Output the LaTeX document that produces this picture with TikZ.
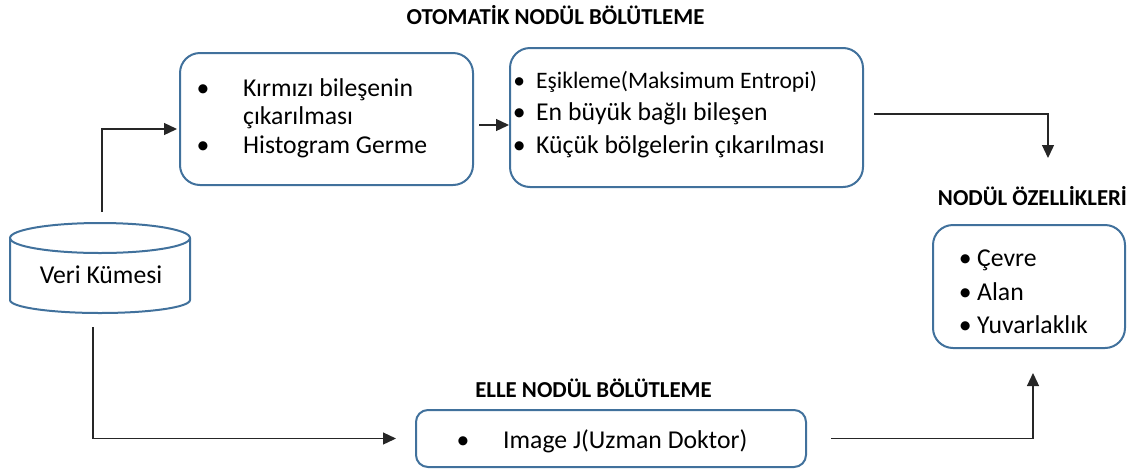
\documentclass[tikz,border=0pt]{standalone}
\usepackage{fontspec}
\setmainfont{Carlito}
\usetikzlibrary{arrows.meta}
\definecolor{boxblue}{HTML}{41719C}
\begin{document}
\begin{tikzpicture}[x=1pt,y=-1pt,
  box/.style={draw=boxblue, line width=2pt, rounded corners=20pt, inner sep=0pt},
  txt/.style={inner sep=0pt, anchor=base west, font=\fontsize{25.7}{30}\selectfont},
  small/.style={inner sep=0pt, anchor=base west, font=\fontsize{23.6}{28}\selectfont},
  bul/.style={inner sep=0pt, anchor=base, font=\fontsize{25.7}{30}\selectfont},
  ttl/.style={inner sep=0pt, anchor=base, font=\fontsize{22.8}{27}\selectfont\bfseries},
  conn/.style={draw=black!85, line width=1.3pt, -{Triangle[length=13pt,width=12pt]}},
]
\useasboundingbox (0,0) rectangle (1145,472);

% titles
\node[ttl] (t1) at (555.5,24.3) {OTOMATİK NODÜL BÖLÜTLEME};
\node[ttl] (t3) at (1032.5,205.5) {NODÜL ÖZELLİKLERİ};
\node[ttl] (t4) at (593.5,397) {ELLE NODÜL BÖLÜTLEME};

% boxes
\node[box, minimum width=293pt, minimum height=132pt] (b1) at (326.5,119) {};
\node[box, minimum width=353pt, minimum height=139pt] (b2) at (686.5,117.5) {};
\node[box, minimum width=192pt, minimum height=123pt] (b3) at (1029,286.5) {};
\node[box, rounded corners=12pt, minimum width=390pt, minimum height=57pt] (b4) at (611,438.5) {};

% box 1 text
\node[bul] (b1u1) at (203,96) {\textbullet};
\node[txt] (b1l1) at (243,96) {Kırmızı bileşenin};
\node[txt] (b1l2) at (243,124.5) {çıkarılması};
\node[bul] (b1u2) at (203,153) {\textbullet};
\node[txt] (b1l3) at (243,153) {Histogram Germe};

% box 2 text
\node[small] (b2l1) at (509,88.5) {\makebox[20pt][c]{\textbullet}\hspace{7pt}Eşikleme(Maksimum Entropi)};
\node[txt] (b2l2) at (509,120) {\makebox[20pt][c]{\textbullet}\hspace{7pt}En büyük bağlı bileşen};
\node[txt] (b2l3) at (509,153) {\makebox[20pt][c]{\textbullet}\hspace{7pt}Küçük bölgelerin çıkarılması};

% box 3 text
\node[txt] (b3l1) at (959,266.5) {\makebox[12pt][c]{\textbullet}\hspace{6pt}Çevre};
\node[txt] (b3l2) at (959,300) {\makebox[12pt][c]{\textbullet}\hspace{6pt}Alan};
\node[txt] (b3l3) at (959,333) {\makebox[12pt][c]{\textbullet}\hspace{6pt}Yuvarlaklık};

% box 4 text
\node[bul] (b4u) at (463,448) {\textbullet};
\node[txt] (b4l) at (503,448) {Image J(Uzman Doktor)};

% database cylinder
\draw[boxblue, line width=2pt] (100,238) ellipse [x radius=90pt, y radius=15pt];
\draw[boxblue, line width=2pt] (10,238) -- (10,300)
  arc[start angle=180, end angle=360, x radius=90pt, y radius=13pt] -- (190,238);
\node[inner sep=0pt, anchor=base, font=\fontsize{25.7}{30}\selectfont] (db) at (101,283) {Veri Kümesi};

% connectors
\coordinate (c1) at (102,212);
\coordinate (c2) at (93,327);
\coordinate (p3) at (1048,158);
\draw[conn, shorten >=2pt] (c1) |- ([yshift=-10pt]b1.west);
\draw[conn] ([xshift=5pt,yshift=-6pt]b1.east) -- ([yshift=-6pt]b1.east -| b2.west);
\draw[conn] ([xshift=10pt,yshift=3.5pt]b2.east) -| (p3);
\draw[conn] (c2) |- ([xshift=-19pt]b4.west);
\draw[conn] ([xshift=24pt]b4.east) -| ([xshift=4pt,yshift=-24pt]b3.south);
\end{tikzpicture}
\end{document}
